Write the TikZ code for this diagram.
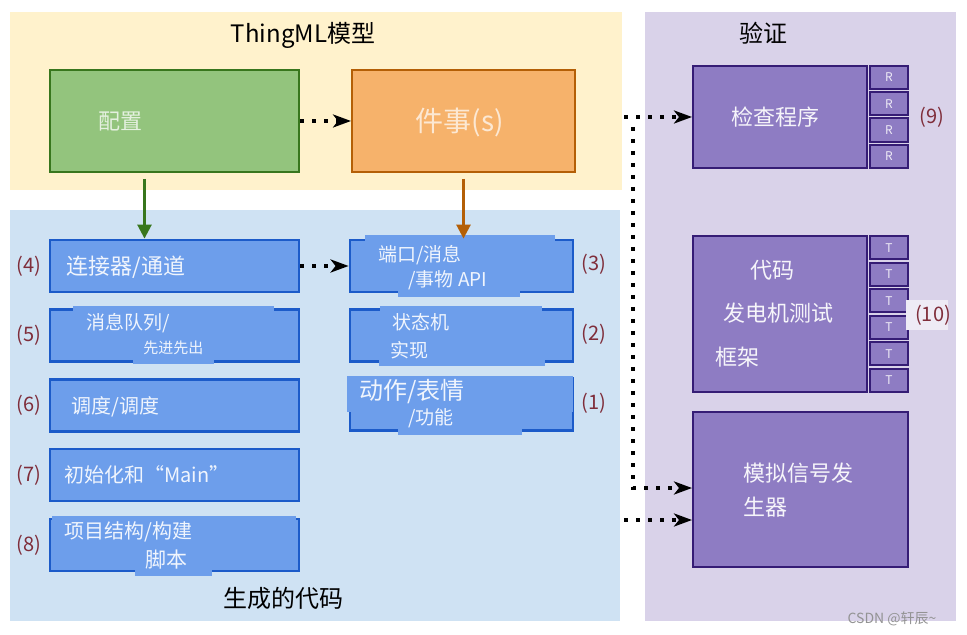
\documentclass[tikz,border=0pt]{standalone}
\usepackage{fontspec}
\setmainfont{Noto Sans CJK SC}
\usetikzlibrary{arrows.meta,positioning,calc}

\definecolor{modelbg}{HTML}{FFF2CC}
\definecolor{codebg}{HTML}{CFE2F3}
\definecolor{verifbg}{HTML}{D9D2E9}
\definecolor{cfgfill}{HTML}{93C47D}
\definecolor{cfgline}{HTML}{38761D}
\definecolor{thingfill}{HTML}{F6B26B}
\definecolor{thingline}{HTML}{B45F06}
\definecolor{genfill}{HTML}{6D9EEB}
\definecolor{genline}{HTML}{1C5BC9}
\definecolor{chkfill}{HTML}{8E7CC3}
\definecolor{chkline}{HTML}{351C75}
\definecolor{numred}{HTML}{7F2D3A}

\newcommand{\fsz}[1]{\fontsize{#1}{1.2\dimexpr#1\relax}\selectfont}

\begin{document}
\begin{tikzpicture}[x=0.5pt,y=-0.5pt,
        dotarrow/.style={line width=2pt, dash pattern=on 2pt off 4pt,
                         -{Stealth[length=9pt,width=6.5pt,inset=2.5pt]}},
        downarrow/.style={line width=1.3pt, -{Triangle[length=7pt,width=7pt]}},
        cfgbox/.style={draw=cfgline, fill=cfgfill, line width=1pt,
                       minimum width=124.5pt, minimum height=51pt, inner sep=0},
        thingbox/.style={draw=thingline, fill=thingfill, line width=1pt,
                         minimum width=111.5pt, minimum height=51pt, inner sep=0},
        genbox/.style={draw=genline, fill=genfill, line width=1.4pt,
                       minimum width=124.5pt, minimum height=26pt, inner sep=0},
        genboxr/.style={genbox, minimum width=111.5pt},
        chkbox/.style={draw=chkline, fill=chkfill, line width=1pt, inner sep=0},
        tagbox/.style={chkbox, minimum width=19pt, minimum height=11.6pt,
                       text=white!85!chkfill, font=\fsz{6pt}},
        gentext/.style={anchor=west, inner sep=0, text=white!90!genfill},
        chktext/.style={inner sep=0, text=white!92!chkfill, font=\fsz{11pt}},
        num/.style={text=numred, font=\fsz{10pt}},
        title/.style={font=\fsz{12pt}, text=black},
        patch/.style={fill=genfill}
    ]
        \useasboundingbox (0,0) rectangle (967,635);

        % areas
        \fill[modelbg] (10,12) rectangle (622,190);
        \fill[codebg] (10,210) rectangle (620,621);
        \fill[verifbg] (645,12) rectangle (956,621);

        \node[title] (modeltitle) at (303,35) {ThingML模型};
        \node[title] (codetitle) at (283,598) {生成的代码};
        \node[title] (veriftitle) at (763,33) {验证};

        % model
        \node[cfgbox] (config) at (174.5,121) {};
        \node[inner sep=0, text=white!75!cfgfill, font=\fsz{11pt}] (configtext) at (120,122) {配置};
        \node[thingbox] (thing) at (463.5,121) {};
        \node[inner sep=0, text=white!70!thingfill, font=\fsz{14pt}] (thingtext) at (460,122) {件事(s)};

        % generated code
        \node[genbox] (conn) at (174.5,266) {};
        \node[genbox] (fifo) at (174.5,335.5) {};
        \node[genbox] (sched) at (174.5,405.5) {};
        \node[genbox] (initmain) at (174.5,475) {};
        \node[genbox] (build) at (174.5,545) {};
        \node[genboxr] (ports) at (461.5,266) {};
        \node[genboxr] (fsm) at (461.5,335.5) {};
        \node[genboxr] (actions) at (461.5,404.5) {};

        \fill[patch] (365,235) rectangle (555,247);
        \fill[patch] (398,283) rectangle (520,297);
        \fill[patch] (73,306) rectangle (274,314);
        \fill[patch] (133,357) rectangle (214,364);
        \fill[patch] (380,306) rectangle (542,314);
        \fill[patch] (379,357) rectangle (545,366);
        \fill[patch] (347,376) rectangle (573,412);
        \fill[patch] (398,428) rectangle (522,435);
        \fill[patch] (52,516) rectangle (296,524);
        \fill[patch] (135,566) rectangle (212,576);

        \node[gentext, font=\fsz{11pt}] (conntext) at (66,267) {连接器/通道};
        \node[gentext, font=\fsz{9.5pt}] (fifotexta) at (86,323) {消息队列/};
        \node[gentext, font=\fsz{7.5pt}] (fifotextb) at (143,348) {先进先出};
        \node[gentext, font=\fsz{10pt}] (schedtext) at (71,407) {调度/调度};
        \node[gentext, font=\fsz{10pt}] (inittext) at (64,475) {初始化和“Main”};
        \node[gentext, font=\fsz{10pt}] (buildtexta) at (64,532) {项目结构/构建};
        \node[gentext, font=\fsz{10.5pt}] (buildtextb) at (145,560) {脚本};
        \node[gentext, font=\fsz{9.5pt}] (portstexta) at (378,255) {端口/消息};
        \node[gentext, font=\fsz{9.5pt}] (portstextb) at (408,280) {/事物 API};
        \node[gentext, font=\fsz{9.5pt}] (fsmtexta) at (392,322) {状态机};
        \node[gentext, font=\fsz{9.5pt}] (fsmtextb) at (390,350) {实现};
        \node[gentext, font=\fsz{12pt}] (actionstexta) at (359,392) {动作/表情};
        \node[gentext, font=\fsz{9.5pt}] (actionstextb) at (408,418) {/功能};

        \node[num] (n4) at (29,266) {(4)};
        \node[num] (n5) at (29,335.5) {(5)};
        \node[num] (n6) at (29,405.5) {(6)};
        \node[num] (n7) at (29,475) {(7)};
        \node[num] (n8) at (29,545) {(8)};
        \node[num] (n3) at (594,264) {(3)};
        \node[num] (n2) at (594,334) {(2)};
        \node[num] (n1) at (594,403) {(1)};

        % verification
        \node[chkbox, minimum width=87pt, minimum height=51pt] (checker) at (780,117) {};
        \node[chktext] (checkertext) at (775,117) {检查程序};
        \foreach \i/\y in {1/77.6,2/103.9,3/130.1,4/156.4}
            \node[tagbox] (r\i) at (889,\y) {R};
        \node[num] (n9) at (932,117) {(9)};

        \node[chkbox, minimum width=87pt, minimum height=78pt] (testgen) at (780,314) {};
        \node[chktext] (testgentexta) at (772,270) {代码};
        \node[chktext] (testgentextb) at (778,313) {发电机测试};
        \node[chktext] (testgentextc) at (737,357) {框架};
        \foreach \i/\y in {1/247.75,2/274.25,3/300.75,4/327.25,5/353.75,6/380.25}
            \node[tagbox] (t\i) at (889,\y) {T};
        \fill[white!55!verifbg] (906,300) rectangle (948,330);
        \node[num] (n10) at (933,315) {(10)};

        \node[chkbox, minimum width=107.5pt, minimum height=77.5pt] (mock) at (800.5,489.5) {};
        \node[chktext, anchor=west] (mocktexta) at (743,473) {模拟信号发};
        \node[chktext, anchor=west] (mocktextb) at (743,507) {生器};

        \node[text=gray!85, font=\fsz{7pt}, inner sep=0] (csdn) at (892,619) {CSDN @轩辰\textasciitilde};

        % connectors
        \draw[downarrow, cfgline] (config.south) ++(-30,6) coordinate (cfgdown) -- (cfgdown |- conn.north);
        \draw[downarrow, thingline] (thing.south) ++(0,6) coordinate (thingdown) -- (thingdown |- ports.north);
        \draw[dotarrow] (config) -- (thing);
        \draw[dotarrow] (conn) -- (ports);

        \coordinate (tapcheck) at (624,117);
        \coordinate (tapdown) at (633,127);
        \coordinate (tapcode) at (624,520);
        \draw[dotarrow] (tapcheck) -- (checker.west);
        \draw[dotarrow] (tapdown) |- ($(mock.west)+(0,-1.5)$);
        \draw[dotarrow] (tapcode) -- (tapcode -| mock.west);
    \end{tikzpicture}
\end{document}
